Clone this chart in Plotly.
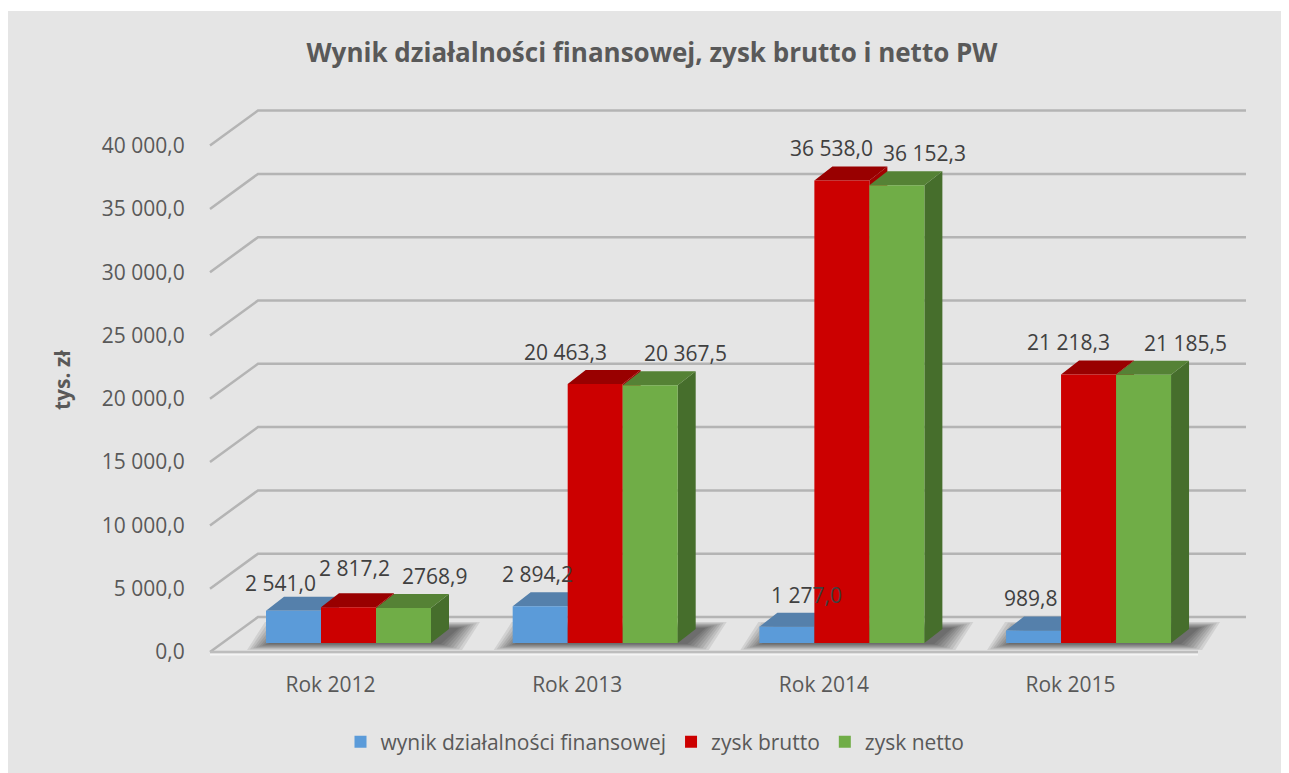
import plotly.graph_objects as go

# ---------------- data ----------------
categories = ["Rok 2012", "Rok 2013", "Rok 2014", "Rok 2015"]
series_names = ["wynik działalności finansowej", "zysk brutto", "zysk netto"]
wynik = [2541.0, 2894.2, 1277.0, 989.8]
brutto = [2817.2, 20463.3, 36538.0, 21218.3]
netto = [2768.9, 20367.5, 36152.3, 21185.5]
labels_wynik = ["2 541,0", "2 894,2", "1 277,0", "989,8"]
labels_brutto = ["2 817,2", "20 463,3", "36 538,0", "21 218,3"]
labels_netto = ["2768,9", "20 367,5", "36 152,3", "21 185,5"]
y_ticks = [0, 5000, 10000, 15000, 20000, 25000, 30000, 35000, 40000]
y_tick_labels = ["0,0", "5 000,0", "10 000,0", "15 000,0", "20 000,0",
                 "25 000,0", "30 000,0", "35 000,0", "40 000,0"]
title_text = "Wynik działalności finansowej, zysk brutto i netto PW"
y_title = "tys. zł"

series_values = [wynik, brutto, netto]
series_labels = [labels_wynik, labels_brutto, labels_netto]

# ---------------- styles / layout ----------------
front_colors = ["#5b9bd9", "#cc0000", "#70ad47"]
top_colors = ["#5580ab", "#990000", "#558235"]
side_colors = ["#41719c", "#a30000", "#466e2c"]
# data-label placement nudges (px), like the spreading done by the source chart
label_dx = [[-13, -3, 20, -3], [6, -30, -10, -20], [31, 35, 28, 42]]
label_dy = [[-4, 0, 0, 0], [7, 0, 0, 0], [0, 0, 0, 0]]
TXT = "#595959"
FONT = "Open Sans"
BODY = 8  # page body margin of the html page

W, H = 1289, 773
ML, MT = 200 - BODY, 90 - BODY
MR = W - (1260 - BODY)
MB = H - (670 - BODY)
PW, PH = W - ML - MR, H - MT - MB
XR = [-0.602, 3.695]
YR = [-2133, 43681]
ux = PW / (XR[1] - XR[0])     # px per x unit
uy = PH / (YR[1] - YR[0])     # px per y unit


def px_x(p):
    return p / ux


def px_y(p):
    return p / uy


def paper_x(page_px):
    return (page_px - BODY - ML) / PW


def paper_y(page_px):
    return (MT + PH - (page_px - BODY)) / PH


BAR_W = px_x(55)
DX, DY = px_x(18), px_y(14)            # bar depth
WDX, WDY = px_x(48), px_y(35)          # wall depth
FRONT_OFF = px_y(9)                    # bar front plane above floor front
WALL_X0 = XR[0] + px_x(10)
WALL_X1 = XR[0] + px_x(1046)
LABEL_SHIFT = px_x(-18)

fig = go.Figure()

# ---- gridlines (main y axis, floor-front scale) ----
gx, gy = [], []
for v in y_ticks:
    gx += [WALL_X0, WALL_X0 + WDX, WALL_X1, None]
    gy += [v, v + WDY, v + WDY, None]
fig.add_trace(go.Scatter(x=gx, y=gy, mode="lines", line=dict(color="#b4b4b4", width=2.5),
                         hoverinfo="skip", showlegend=False, xaxis="x", yaxis="y"))
fig.add_trace(go.Scatter(x=[WALL_X0, WALL_X1 - WDX], y=[-px_y(2.5), -px_y(2.5)], mode="lines",
                         line=dict(color="#f4f4f4", width=2),
                         hoverinfo="skip", showlegend=False, xaxis="x", yaxis="y"))
fig.add_trace(go.Scatter(x=[WALL_X0, WALL_X1 - WDX], y=[0, 0], mode="lines",
                         line=dict(color="#bdbdbd", width=2.5),
                         hoverinfo="skip", showlegend=False, xaxis="x", yaxis="y"))

# ---- soft shadows (y2, bar scale) ----
n_series = len(series_values)
for e in [25, 22, 19, 16, 13, 10, 7, 4]:
    sx, sy = [], []
    ex, ey = px_x(e), px_y(e * 0.28)
    sh = px_x(6)
    for i in range(len(categories)):
        a = i - n_series / 2 * BAR_W + sh
        b = i + n_series / 2 * BAR_W + sh
        sx += [a - ex, b + ex, b + DX + ex, a + DX - ex, a - ex, None]
        sy += [-ey, -ey, DY + ey, DY + ey, -ey, None]
    fig.add_trace(go.Scatter(x=sx, y=sy, mode="lines", fill="toself", line=dict(width=0),
                             fillcolor="rgba(0,0,0,0.085)", hoverinfo="skip",
                             showlegend=False, xaxis="x", yaxis="y2"))

# ---- 3D faces (y2) ----
for k, vals in enumerate(series_values):
    tx, ty, sx, sy = [], [], [], []
    for i, h in enumerate(vals):
        x0 = i + (k - n_series / 2) * BAR_W
        x1 = x0 + BAR_W
        tx += [x0, x1, x1 + DX, x0 + DX, x0, None]
        ty += [h, h, h + DY, h + DY, h, None]
        sx += [x1, x1, x1 + DX, x1 + DX, x1, None]
        sy += [0, h, h + DY, DY, 0, None]
    fig.add_trace(go.Scatter(x=sx, y=sy, mode="lines", fill="toself", line=dict(width=0),
                             fillcolor=side_colors[k], hoverinfo="skip",
                             showlegend=False, xaxis="x", yaxis="y2"))
    fig.add_trace(go.Scatter(x=tx, y=ty, mode="lines", fill="toself", line=dict(width=0),
                             fillcolor=top_colors[k], hoverinfo="skip",
                             showlegend=False, xaxis="x", yaxis="y2"))

# ---- front faces: real bars (y3) ----
for k, vals in enumerate(series_values):
    fig.add_trace(go.Bar(
        x=list(range(len(categories))), y=vals, name=series_names[k],
        width=BAR_W, offset=(k - n_series / 2) * BAR_W,
        marker=dict(color=front_colors[k], line=dict(width=0)),
        xaxis="x", yaxis="y3"))

# ---- data labels ----
annotations = []
for k, vals in enumerate(series_values):
    for i, h in enumerate(vals):
        xc = i + (k - n_series / 2 + 0.5) * BAR_W
        annotations.append(dict(
            x=xc, y=h, xref="x", yref="y3", text=series_labels[k][i], showarrow=False,
            xanchor="center", yanchor="bottom", xshift=label_dx[k][i], yshift=16 + label_dy[k][i],
            font=dict(family=FONT, size=21, color="#404040")))

annotations.append(dict(
    x=paper_x(62), y=paper_y(380), xref="paper", yref="paper", text="<b>" + y_title + "</b>",
    textangle=-90, showarrow=False, xanchor="center", yanchor="middle",
    font=dict(family=FONT, size=21, color=TXT)))

fig.update_layout(
    width=W, height=H,
    margin=dict(l=ML, r=MR, t=MT, b=MB),
    paper_bgcolor="white", plot_bgcolor="rgba(0,0,0,0)",
    barmode="overlay",
    title=dict(text="<b>" + title_text + "</b>", x=(652 - BODY) / W, xref="container",
               xanchor="center", y=1 - (53 - BODY) / H, yref="container", yanchor="middle",
               font=dict(family=FONT, size=26, color=TXT)),
    font=dict(family=FONT, color=TXT),
    showlegend=True,
    legend=dict(orientation="h", x=paper_x(655), xanchor="center", y=paper_y(742),
                yanchor="middle", font=dict(family=FONT, size=21, color=TXT),
                bgcolor="rgba(0,0,0,0)", itemwidth=30),
    xaxis=dict(range=XR, showgrid=False, zeroline=False, showline=False,
               tickvals=[i + LABEL_SHIFT for i in range(len(categories))], ticktext=categories,
               ticks="", tickfont=dict(family=FONT, size=21, color=TXT), fixedrange=True),
    yaxis=dict(range=[YR[0] + FRONT_OFF, YR[1] + FRONT_OFF], showgrid=False, zeroline=False,
               showline=False, tickvals=y_ticks, ticktext=y_tick_labels, ticks="outside",
               ticklen=10, tickcolor="rgba(0,0,0,0)",
               tickfont=dict(family=FONT, size=21, color=TXT), fixedrange=True),
    yaxis2=dict(range=YR, overlaying="y", visible=False, fixedrange=True),
    yaxis3=dict(range=YR, overlaying="y", visible=False, fixedrange=True),
    annotations=annotations,
    shapes=[dict(type="rect", xref="paper", yref="paper", layer="below",
                 x0=paper_x(8), x1=paper_x(1400), y0=paper_y(900), y1=paper_y(11),
                 fillcolor="#e5e5e5", line=dict(width=0))],
)

fig.write_html("out.html")
